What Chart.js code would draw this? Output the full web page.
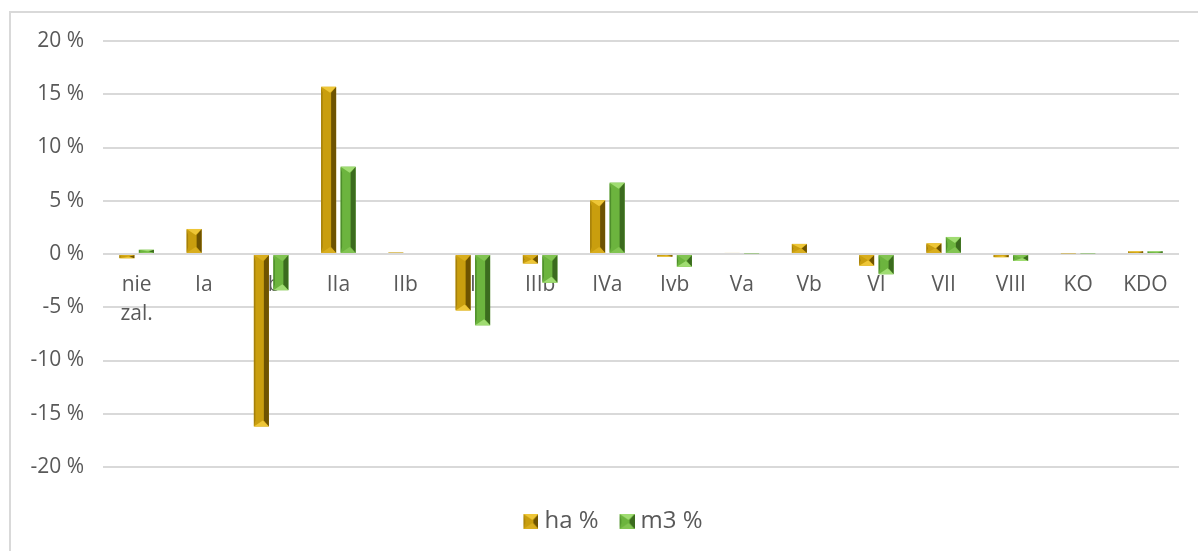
<!DOCTYPE html>
<html><head><meta charset="utf-8">
<script src="https://cdn.jsdelivr.net/npm/chart.js@4/dist/chart.umd.min.js"></script>
<style>
html,body{margin:0;padding:0;background:#fff;overflow:hidden;width:1198px;height:551px;position:relative;}
#frame{position:absolute;left:9px;top:11px;width:1240px;height:600px;border-left:2px solid #d9d9d9;border-top:2px solid #d9d9d9;}
#c{position:absolute;left:0;top:0;}
</style></head><body>
<div id="frame"></div>
<canvas id="c" width="1198" height="551"></canvas>
<script>
const categories = [['nie','zal.'],'Ia','Ib','IIa','IIb','IIIa','IIIb','IVa','Ivb','Va','Vb','VI','VII','VIII','KO','KDO'];
const haValues = [-0.4, 2.35, -16.2, 15.7, 0.15, -5.3, -0.9, 5.05, -0.25, 0.1, 0.95, -1.1, 1.0, -0.3, 0.05, 0.25];
const m3Values = [0.4, 0.0, -3.4, 8.2, 0.0, -6.7, -2.7, 6.7, -1.2, 0.05, 0.0, -1.9, 1.6, -0.65, 0.05, 0.25];
const seriesNames = ['ha %', 'm3 %'];
const yMin = -20, yMax = 20, yStep = 5;

const palettes = [
  {base:'#C99E0E', light:'#EEC637', mid:'#D9AE1E', dark:'#6E5300', edge:'#A5800A'},
  {base:'#6CB43E', light:'#A0DC72', mid:'#82C452', dark:'#3B6B1E', edge:'#4E8E2B'}
];

function poly(ctx, pts, color){
  ctx.beginPath(); ctx.moveTo(pts[0][0], pts[0][1]);
  for (let i=1;i<pts.length;i++) ctx.lineTo(pts[i][0], pts[i][1]);
  ctx.closePath(); ctx.fillStyle = color; ctx.fill();
}
function drawBevel(ctx, l, t, r, b, pal, valueAtTop){
  const w = r-l, h = b-t;
  if (h <= 0 || w <= 0) return;
  ctx.fillStyle = pal.base; ctx.fillRect(l, t, w, h);
  if (h < 1.2) return;
  const dy = Math.min(6, h/2), dx = Math.min(5, w/3);
  poly(ctx, [[l,t],[l+1.5,t+dy],[l+1.5,b-dy],[l,b]], pal.edge);
  poly(ctx, [[r,t],[r-dx,t+dy],[r-dx,b-dy],[r,b]], pal.dark);
  const ax = l + w*0.6;
  poly(ctx, [[l,t],[r,t],[ax,t+dy]], valueAtTop ? pal.light : pal.mid);
  poly(ctx, [[l,b],[r,b],[ax,b-dy]], valueAtTop ? pal.mid : pal.light);
}
function legendIcon(pal){
  const cv = document.createElement('canvas');
  cv.width = 34; cv.height = 15;
  const cx = cv.getContext('2d');
  drawBevel(cx, 19, 0, 34, 15, pal, true);
  return cv;
}

const bevelPlugin = {
  id: 'bevel',
  afterDatasetsDraw(chart){
    const ctx = chart.ctx; ctx.save();
    chart.data.datasets.forEach((ds, i) => {
      const meta = chart.getDatasetMeta(i);
      meta.data.forEach(el => {
        const p = el.getProps(['x','y','base','width'], true);
        const l = p.x - p.width/2, r = p.x + p.width/2;
        const t = Math.min(p.y, p.base), b = Math.max(p.y, p.base);
        drawBevel(ctx, l, t, r, b, palettes[i], p.y <= p.base);
      });
    });
    ctx.restore();
  }
};

const FONT = '"Open Sans"';
new Chart(document.getElementById('c'), {
  type: 'bar',
  data: {
    labels: categories,
    datasets: [
      {label: seriesNames[0], data: haValues, backgroundColor: 'rgba(0,0,0,0)', borderWidth: 0,
       pointStyle: legendIcon(palettes[0]), categoryPercentage: 0.58, barPercentage: 0.77},
      {label: seriesNames[1], data: m3Values, backgroundColor: 'rgba(0,0,0,0)', borderWidth: 0,
       pointStyle: legendIcon(palettes[1]), categoryPercentage: 0.58, barPercentage: 0.77}
    ]
  },
  options: {
    responsive: false, animation: false, devicePixelRatio: 1,
    layout: {padding: {left: 20, right: 5, top: 41, bottom: 7.5}},
    plugins: {
      tooltip: {enabled: false},
      legend: {
        position: 'bottom',
        labels: {usePointStyle: true, pointStyleWidth: 22, boxHeight: 15, padding: 8,
                 color: '#595959', font: {family: FONT, size: 24}}
      }
    },
    scales: {
      x: {
        position: {y: 0},
        grid: {display: false, drawTicks: false},
        border: {display: false},
        ticks: {color: '#595959', font: {family: FONT, size: 21, lineHeight: 1.35}, padding: 17,
                maxRotation: 0, autoSkip: false}
      },
      x2: {
        type: 'category', position: 'bottom', display: true,
        grid: {display: false, drawTicks: false}, border: {display: false},
        ticks: {display: false},
        afterFit(s){ s.height = 34.5; }
      },
      y: {
        min: yMin, max: yMax,
        ticks: {stepSize: yStep, callback: v => v + ' %', color: '#595959',
                font: {family: FONT, size: 21}, padding: 19},
        grid: {color: '#d9d9d9', lineWidth: 2, drawTicks: false},
        border: {display: false},
        afterFit(s){ s.width = 83; }
      },
      y2: {
        type: 'linear', position: 'right', display: true,
        grid: {display: false, drawTicks: false}, border: {display: false},
        ticks: {display: false},
        afterFit(s){ s.width = 14; }
      }
    }
  },
  plugins: [bevelPlugin]
});
</script>
</body></html>
